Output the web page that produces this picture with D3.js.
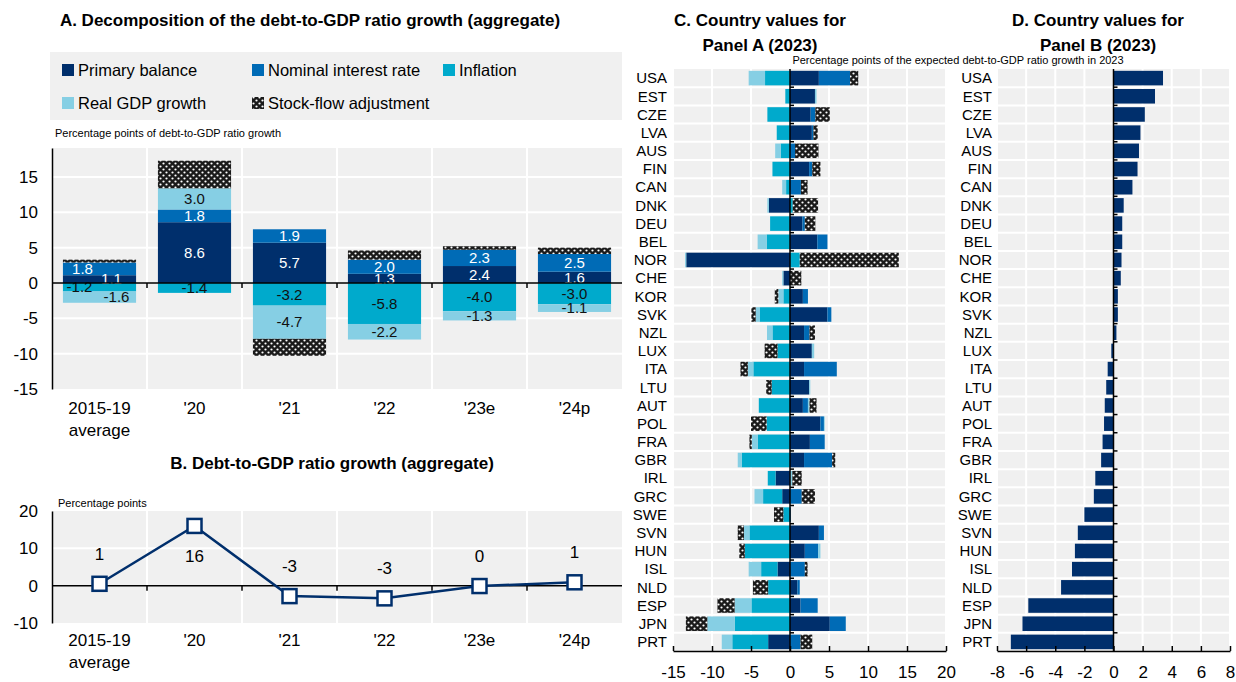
<!DOCTYPE html>
<html>
<head>
<meta charset="utf-8">
<script src="https://cdn.jsdelivr.net/npm/d3@7"></script>
<style>
body { margin: 0; background: #fff; }
text { font-family: "Liberation Sans Narrow", "Arial Narrow", "Liberation Sans", Arial, sans-serif; fill: #000; }
</style>
</head>
<body>
<svg id="chart" width="1236" height="682"></svg>
<script>
// ---- data: panel A / B (aggregate) ----
var yearsA = ["2015-19 average", "'20", "'21", "'22", "'23e", "'24p"];
var primaryA   = [1.1, 8.6, 5.7, 1.3, 2.4, 1.6];
var interestA  = [1.8, 1.8, 1.9, 2.0, 2.3, 2.5];
var inflationA = [-1.2, -1.4, -3.2, -5.8, -4.0, -3.0];
var realGdpA   = [-1.6, 3.0, -4.7, -2.2, -1.3, -1.1];
var sfaA       = [0.4, 3.9, -2.4, 1.3, 0.5, 0.9];
var debtGrowthB = [0.5, 16.0, -2.8, -3.4, -0.1, 0.9];
var ticksA = [-15, -10, -5, 0, 5, 10, 15];
var ticksB = [-10, 0, 10, 20];

// ---- data: panel C / D (countries, 2023) ----
var countries = ["USA","EST","CZE","LVA","AUS","FIN","CAN","DNK","DEU","BEL","NOR","CHE","KOR","SVK","NZL","LUX",
                 "ITA","LTU","AUT","POL","FRA","GBR","IRL","GRC","SWE","SVN","HUN","ISL","NLD","ESP","JPN","PRT"];
var primaryC   = [3.7, 3.2, 2.65, 2.8, 0, 2.45, 0, -2.7, 1.6, 3.5, -13.3, -0.85, 1.65, 4.8, 1.8, 2.8,
                  1.8, 2.45, 1.65, 3.9, 2.55, 1.8, -1.85, -1.0, 0, 3.7, 1.9, -1.6, 0.95, 1.35, 5.1, -2.8];
var interestC  = [4.0, 0, 0.6, 0.2, 0.65, 0.4, 1.4, 0, 0.3, 1.3, 0, 0, 0.65, 0.5, 0.7, 0,
                  4.2, 0, 0.65, 0.45, 1.9, 3.6, 0, 1.5, 0.1, 0.65, 1.7, 1.9, 0.3, 2.2, 2.05, 1.35];
var inflationC = [-3.2, -0.6, -2.9, -1.7, -1.2, -2.25, -0.5, 0.35, -2.55, -3.0, 1.25, 0, -0.85, -3.9, -2.25, -1.6,
                  -4.7, -2.35, -4.0, -3.0, -4.15, -6.2, -1.0, -2.45, -0.85, -5.2, -5.8, -2.1, -2.8, -4.95, -7.1, -4.6];
var realGdpC   = [-2.1, 0.2, 0, 0, -0.7, 0, -0.5, -0.2, 0, -1.15, -0.15, -0.15, -0.65, -0.5, -0.7, 0.3,
                  -0.7, 0.15, 0.2, 0.1, -0.75, -0.5, 0.3, -1.1, 0, -0.7, 0.3, -1.6, 0, -2.15, -3.5, -1.35];
var sfaC       = [1.05, 0, 1.85, 0.55, 3.0, 1.05, 0.85, 3.25, 1.35, 0, 12.7, 1.45, -0.45, -0.55, 0.7, -1.65,
                  -0.95, -0.7, 0.9, -2.0, -0.3, 0.4, 1.2, 1.7, -1.2, -0.8, -0.7, 0.35, -1.95, -2.2, -2.75, 1.5];
var debtGrowthD = [3.4, 2.85, 2.15, 1.85, 1.75, 1.65, 1.3, 0.7, 0.6, 0.6, 0.55, 0.5, 0.3, 0.3, 0.2, -0.15,
                   -0.4, -0.5, -0.6, -0.65, -0.75, -0.85, -1.25, -1.35, -2.0, -2.45, -2.65, -2.85, -3.6, -5.85, -6.25, -7.05];
var ticksC = [-15, -10, -5, 0, 5, 10, 15, 20];
var ticksD = [-8, -6, -4, -2, 0, 2, 4, 6, 8];

var seriesNames = ["Primary balance", "Nominal interest rate", "Inflation", "Real GDP growth", "Stock-flow adjustment"];
var keys = ["pb", "nir", "inf", "gdp", "sfa"];
var colors = { pb: "#002f6c", nir: "#006bb6", inf: "#00aacc", gdp: "#86cfe4", sfa: "url(#sfa)" };
var grey = "#f0f0f0";

var svg = d3.select("#chart");

// stock-flow adjustment hatch
var pat = svg.append("defs").append("pattern")
    .attr("id", "sfa")
    .attr("patternUnits", "userSpaceOnUse")
    .attr("width", 6).attr("height", 6);
pat.append("rect").attr("width", 6).attr("height", 6).attr("fill", "#1a1a1a");
pat.append("circle").attr("cx", 1.5).attr("cy", 1.5).attr("r", 1.1).attr("fill", "#fff");
pat.append("circle").attr("cx", 4.5).attr("cy", 4.5).attr("r", 1.1).attr("fill", "#fff");

function table(names, a, b, c, d, e) {
    return names.map(function (n, i) {
        return { name: n, pb: a[i], nir: b[i], inf: c[i], gdp: d[i], sfa: e[i] };
    });
}
var stack = d3.stack().keys(keys).offset(d3.stackOffsetDiverging);

function title(x, y, lines) {
    var t = svg.append("text")
        .attr("x", x).attr("y", y)
        .attr("text-anchor", "middle")
        .style("font-size", "17px").style("font-weight", "bold");
    lines.forEach(function (l, i) {
        t.append("tspan").attr("x", x).attr("dy", i ? 25 : 0).text(l);
    });
}

// ================= Panel A =================
title(310, 26, ["A. Decomposition of the debt-to-GDP ratio growth (aggregate)"]);

var leg = svg.append("g");
leg.append("rect").attr("x", 50).attr("y", 52).attr("width", 572).attr("height", 68).attr("fill", grey);
var legPos = [[62, 70], [252, 70], [443, 70], [62, 103], [252, 103]];
keys.forEach(function (k, i) {
    leg.append("rect")
        .attr("x", legPos[i][0]).attr("y", legPos[i][1] - 6)
        .attr("width", 12).attr("height", 12)
        .attr("fill", colors[k]);
    leg.append("text")
        .attr("x", legPos[i][0] + 16).attr("y", legPos[i][1])
        .attr("dy", "0.35em")
        .style("font-size", "16.5px")
        .text(seriesNames[i]);
});

svg.append("text").attr("x", 55).attr("y", 137).style("font-size", "11px")
    .text("Percentage points of debt-to-GDP ratio growth");

var xA = d3.scaleBand().domain(yearsA).range([52, 622]);
var yA = d3.scaleLinear().domain([-15, 19.1]).range([389, 148]);
var dataA = table(yearsA, primaryA, interestA, inflationA, realGdpA, sfaA);

var gA = svg.append("g");
gA.append("rect").attr("x", 52).attr("y", 148).attr("width", 570).attr("height", 241).attr("fill", grey);
gA.selectAll(".hg").data(ticksA.filter(function (t) { return t !== 0 && t !== -15; }))
    .enter().append("line")
    .attr("x1", 52).attr("x2", 622)
    .attr("y1", function (d) { return yA(d); }).attr("y2", function (d) { return yA(d); })
    .attr("stroke", "#fff").attr("stroke-width", 2);
gA.selectAll(".vg").data(yearsA.slice(1))
    .enter().append("line")
    .attr("x1", function (d) { return xA(d); }).attr("x2", function (d) { return xA(d); })
    .attr("y1", 148).attr("y2", 389)
    .attr("stroke", "#fff").attr("stroke-width", 2);

var barW = xA.bandwidth() * 0.77;
var layersA = stack(dataA);
gA.selectAll(".layer").data(layersA)
    .enter().append("g")
    .attr("fill", function (d) { return colors[d.key]; })
    .selectAll("rect").data(function (d) { return d; })
    .enter().append("rect")
    .attr("x", function (d) { return xA(d.data.name) + (xA.bandwidth() - barW) / 2; })
    .attr("width", barW)
    .attr("y", function (d) { return yA(d[1]); })
    .attr("height", function (d) { return yA(d[0]) - yA(d[1]); });

// segment labels (not for stock-flow)
var shiftFirst = { pb: 12, nir: -17, inf: -20, gdp: 17 };
layersA.forEach(function (layer) {
    if (layer.key === "sfa") return;
    gA.selectAll(".lab-" + layer.key).data(layer)
        .enter().append("text")
        .attr("x", function (d, i) { return xA(d.data.name) + xA.bandwidth() / 2 + (i === 0 ? shiftFirst[layer.key] : 0); })
        .attr("y", function (d) { return yA((d[0] + d[1]) / 2); })
        .attr("dy", "0.35em")
        .attr("text-anchor", "middle")
        .style("font-size", "15px")
        .style("fill", (layer.key === "pb" || layer.key === "nir") ? "#fff" : "#111")
        .text(function (d) { return d.data[layer.key].toFixed(1); });
});

gA.append("line").attr("x1", 52).attr("x2", 622).attr("y1", yA(0)).attr("y2", yA(0))
    .attr("stroke", "#000").attr("stroke-width", 1.5);
gA.selectAll(".zt").data(yearsA.slice(1))
    .enter().append("line")
    .attr("x1", function (d) { return xA(d); }).attr("x2", function (d) { return xA(d); })
    .attr("y1", yA(0)).attr("y2", yA(0) + 5)
    .attr("stroke", "#000").attr("stroke-width", 1.5);

var axA = gA.append("g").attr("transform", "translate(52,0)")
    .call(d3.axisLeft(yA).tickValues(ticksA).tickSize(0).tickPadding(14).tickFormat(function (d) { return String(d); }));
axA.select(".domain").attr("stroke", "#000").attr("stroke-width", 1.5);
axA.selectAll("text").style("font-size", "17px");

function catLabels(g, x, yTop) {
    g.selectAll(".cat").data(x.domain())
        .enter().append("text")
        .attr("text-anchor", "middle")
        .attr("x", function (d) { return x(d) + x.bandwidth() / 2; })
        .attr("y", yTop)
        .style("font-size", "17px")
        .each(function (d) {
            var el = d3.select(this);
            d.split(" ").forEach(function (w, i) {
                el.append("tspan").attr("x", x(d) + x.bandwidth() / 2).attr("dy", i ? 22 : 0).text(w);
            });
        });
}
catLabels(gA, xA, 414);

// ================= Panel B =================
title(332, 469, ["B. Debt-to-GDP ratio growth (aggregate)"]);
svg.append("text").attr("x", 58).attr("y", 507).style("font-size", "11px").text("Percentage points");

var yB = d3.scaleLinear().domain([-10, 20]).range([623, 511]);
var gB = svg.append("g");
gB.append("rect").attr("x", 52).attr("y", 511).attr("width", 570).attr("height", 112).attr("fill", grey);
gB.append("line").attr("x1", 52).attr("x2", 622).attr("y1", yB(10)).attr("y2", yB(10))
    .attr("stroke", "#fff").attr("stroke-width", 2);
gB.selectAll(".vg").data(yearsA.slice(1))
    .enter().append("line")
    .attr("x1", function (d) { return xA(d); }).attr("x2", function (d) { return xA(d); })
    .attr("y1", 511).attr("y2", 623)
    .attr("stroke", "#fff").attr("stroke-width", 2);
gB.append("line").attr("x1", 52).attr("x2", 622).attr("y1", yB(0)).attr("y2", yB(0))
    .attr("stroke", "#000").attr("stroke-width", 1.5);
gB.selectAll(".zt").data(yearsA.slice(1))
    .enter().append("line")
    .attr("x1", function (d) { return xA(d); }).attr("x2", function (d) { return xA(d); })
    .attr("y1", yB(0)).attr("y2", yB(0) + 5)
    .attr("stroke", "#000").attr("stroke-width", 1.5);
var axB = gB.append("g").attr("transform", "translate(52,0)")
    .call(d3.axisLeft(yB).tickValues(ticksB).tickSize(0).tickPadding(14).tickFormat(function (d) { return String(d); }));
axB.select(".domain").attr("stroke", "#000").attr("stroke-width", 1.5);
axB.selectAll("text").style("font-size", "17px");

var cx = function (d, i) { return xA(yearsA[i]) + xA.bandwidth() / 2; };
gB.append("path")
    .datum(debtGrowthB)
    .attr("fill", "none").attr("stroke", "#002f6c").attr("stroke-width", 2.5)
    .attr("d", d3.line().x(cx).y(function (d) { return yB(d); }));
gB.selectAll(".pt").data(debtGrowthB)
    .enter().append("rect")
    .attr("x", function (d, i) { return cx(d, i) - 7; })
    .attr("y", function (d) { return yB(d) - 7; })
    .attr("width", 14).attr("height", 14)
    .attr("fill", "#fff").attr("stroke", "#002f6c").attr("stroke-width", 2.5);
gB.selectAll(".pl").data(debtGrowthB)
    .enter().append("text")
    .attr("x", cx)
    .attr("y", function (d) { return yB(d) + (d > 10 ? 30 : -30); })
    .attr("dy", "0.35em")
    .attr("text-anchor", "middle")
    .style("font-size", "17px")
    .text(function (d) { return String(Math.round(d)); });
catLabels(gB, xA, 646);

// ================= Panels C and D =================
title(760, 26, ["C. Country values for", "Panel A (2023)"]);
title(1098, 26, ["D. Country values for", "Panel B (2023)"]);
svg.append("text").attr("x", 958).attr("y", 64).attr("text-anchor", "middle").style("font-size", "11px")
    .text("Percentage points of the expected debt-to-GDP ratio growth in 2023");

var yC = d3.scaleBand().domain(countries).range([69, 651]);
var barH = yC.bandwidth() * 0.8;

function countryFrame(x, ticks, labelX) {
    var g = svg.append("g");
    var x0 = x.range()[0], x1 = x.range()[1];
    g.append("rect").attr("x", x0).attr("y", 69).attr("width", x1 - x0).attr("height", 582).attr("fill", grey);
    g.selectAll(".hg").data(countries.slice(1))
        .enter().append("line")
        .attr("x1", x0).attr("x2", x1)
        .attr("y1", function (d) { return yC(d); }).attr("y2", function (d) { return yC(d); })
        .attr("stroke", "#fff").attr("stroke-width", 2);
    g.selectAll(".vg").data(ticks.filter(function (t) { return t !== 0; }))
        .enter().append("line")
        .attr("x1", function (d) { return x(d); }).attr("x2", function (d) { return x(d); })
        .attr("y1", 69).attr("y2", 651)
        .attr("stroke", "#fff").attr("stroke-width", 2);
    g.selectAll(".cl").data(countries)
        .enter().append("text")
        .attr("x", labelX)
        .attr("y", function (d) { return yC(d) + yC.bandwidth() / 2; })
        .attr("dy", "0.35em")
        .attr("text-anchor", "end")
        .style("font-size", "15px")
        .text(function (d) { return d; });
    return g;
}
function countryAxes(g, x, ticks) {
    g.append("line").attr("x1", x(0)).attr("x2", x(0)).attr("y1", 69).attr("y2", 651)
        .attr("stroke", "#000").attr("stroke-width", 1.5);
    g.selectAll(".rt").data(countries.slice(1))
        .enter().append("line")
        .attr("x1", x(0)).attr("x2", x(0) + 4)
        .attr("y1", function (d) { return yC(d); }).attr("y2", function (d) { return yC(d); })
        .attr("stroke", "#000").attr("stroke-width", 1.5);
    var ax = g.append("g").attr("transform", "translate(0,651)")
        .call(d3.axisBottom(x).tickValues(ticks).tickSize(-5).tickSizeOuter(0).tickPadding(15)
            .tickFormat(function (d) { return String(d); }));
    ax.select(".domain").attr("stroke", "#000").attr("stroke-width", 1.5);
    ax.selectAll("line").attr("stroke", "#000").attr("stroke-width", 1.5);
    ax.selectAll("text").style("font-size", "17px");
}

// Panel C
var xC = d3.scaleLinear().domain([-15, 20]).range([673, 946]);
var gC = countryFrame(xC, ticksC, 667);
var dataC = table(countries, primaryC, interestC, inflationC, realGdpC, sfaC);
gC.selectAll(".layer").data(stack(dataC))
    .enter().append("g")
    .attr("fill", function (d) { return colors[d.key]; })
    .selectAll("rect").data(function (d) { return d; })
    .enter().append("rect")
    .attr("y", function (d) { return yC(d.data.name) + (yC.bandwidth() - barH) / 2; })
    .attr("height", barH)
    .attr("x", function (d) { return xC(d[0]); })
    .attr("width", function (d) { return xC(d[1]) - xC(d[0]); });
countryAxes(gC, xC, ticksC);

// Panel D
var xD = d3.scaleLinear().domain([-8, 8]).range([997, 1230]);
var gD = countryFrame(xD, ticksD, 992);
gD.selectAll(".bar").data(debtGrowthD)
    .enter().append("rect")
    .attr("fill", "#002f6c")
    .attr("y", function (d, i) { return yC(countries[i]) + (yC.bandwidth() - barH) / 2; })
    .attr("height", barH)
    .attr("x", function (d) { return xD(Math.min(0, d)); })
    .attr("width", function (d) { return Math.abs(xD(d) - xD(0)); });
countryAxes(gD, xD, ticksD);
</script>
</body>
</html>
